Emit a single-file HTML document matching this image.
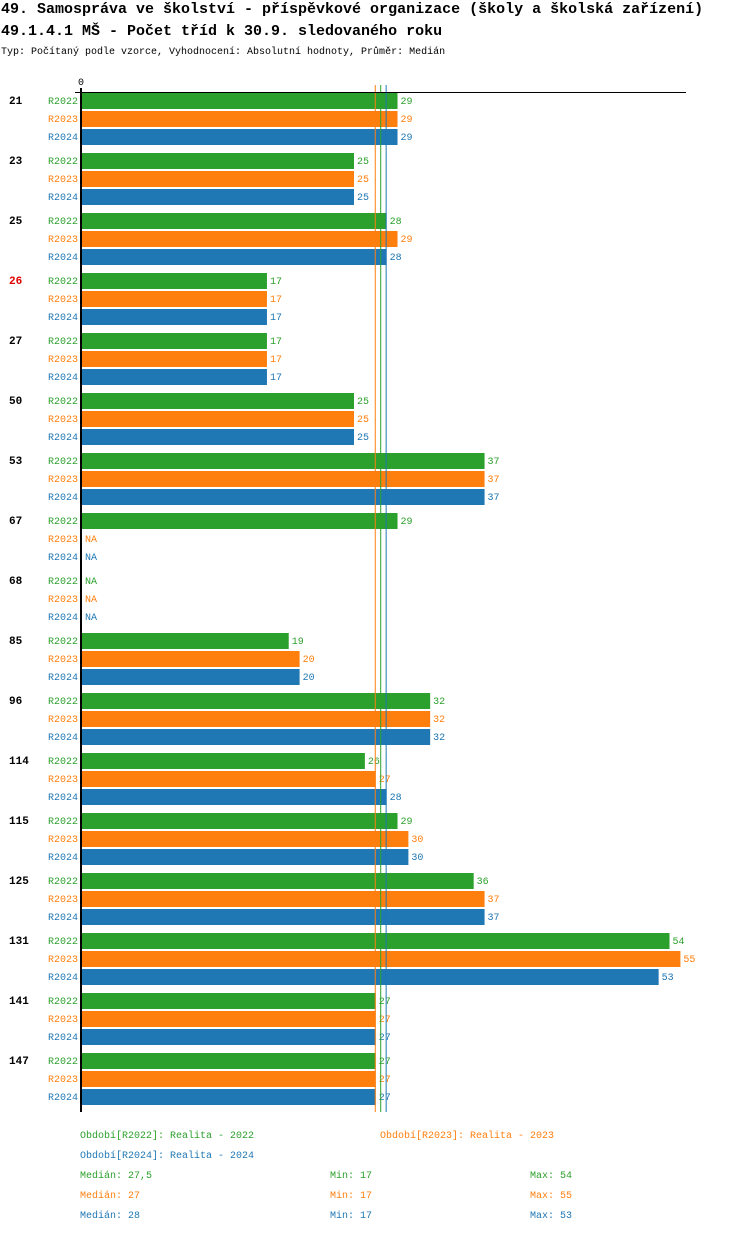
<!DOCTYPE html>
<html><head><meta charset="utf-8">
<style>
body{margin:0;background:#fff;width:750px;height:1232px;overflow:hidden;font-family:"Liberation Mono",monospace;}
svg text{font-family:"Liberation Mono",monospace;}
</style></head>
<body>
<svg id="chart" width="750" height="1232">
<text x="1" y="13" font-size="15" font-weight="bold">49. Samospráva ve školství - příspěvkové organizace (školy a školská zařízení)</text>
<text x="1" y="35" font-size="15" font-weight="bold">49.1.4.1 MŠ - Počet tříd k 30.9. sledovaného roku</text>
<text x="1" y="54" font-size="10">Typ: Počítaný podle vzorce, Vyhodnocení: Absolutní hodnoty, Průměr: Medián</text>
<text x="78" y="85" font-size="10">0</text>
<g id="bars"></g>
</svg>
<script>
const categories=["21","23","25","26","27","50","53","67","68","85","96","114","115","125","131","141","147"];
const highlighted=["26"];
const seriesNames=["R2022","R2023","R2024"];
const r2022=[29,25,28,17,17,25,37,29,null,19,32,26,29,36,54,27,27];
const r2023=[29,25,29,17,17,25,37,null,null,20,32,27,30,37,55,27,27];
const r2024=[29,25,28,17,17,25,37,null,null,20,32,28,30,37,53,27,27];
const medians=[27.5,27,28];
const mins=[17,17,17];
const maxs=[54,55,53];
const colors=["#2ca02c","#ff7f0e","#1f77b4"];
const series=[r2022,r2023,r2024];
const NS="http://www.w3.org/2000/svg";
const svgEl=document.getElementById("chart");
const X0=82, SC=10.88, TOPY=92, GROUP=60, PITCH=18, BH=16;
const xs=v=>X0+v*SC;
function mk(tag,attrs,parent){const e=document.createElementNS(NS,tag);for(const k in attrs)e.setAttribute(k,attrs[k]);(parent||svgEl).appendChild(e);return e;}
const g=document.getElementById("bars");
const bottomY=TOPY+categories.length*GROUP;
categories.forEach((c,i)=>{
  const gy=TOPY+i*GROUP;
  const t=mk("text",{x:9,y:gy+12,"font-size":11,"font-weight":"bold",fill:highlighted.includes(c)?"#e00000":"#000"},g);
  t.textContent=c;
  
  
  series.forEach((s,j)=>{
    const y=gy+1+j*PITCH;
    const lab=mk("text",{x:78,y:y+11,"font-size":10,fill:colors[j],"text-anchor":"end"},g);
    lab.textContent=seriesNames[j];
    
    
    const v=s[i];
    if(v!==null){
      const r=mk("rect",{x:X0,y:y,width:xs(v)-X0,height:BH,fill:colors[j]},g);
      
      
    }
    const vt=mk("text",{x:(v===null?X0:xs(v))+3,y:y+11,"font-size":10,fill:colors[j]},g);
    vt.textContent=v===null?"NA":v;
    
    
  });
});
const mOrder=[1,0,2];
mOrder.forEach(j=>{
  const l=mk("line",{x1:xs(medians[j])-0.5,x2:xs(medians[j])-0.5,y1:85,y2:bottomY,stroke:colors[j],"stroke-width":1});
  
  
});
const topLine=mk("line",{x1:75,x2:686,y1:92.5,y2:92.5,stroke:"#000","stroke-width":1});


const ax=mk("line",{x1:81,x2:81,y1:88,y2:bottomY,stroke:"#000","stroke-width":2});


function txt(x,y,s,col,name){const t=mk("text",{x:x,y:y,"font-size":10,fill:col});t.textContent=s;}
txt(80,1138,"Období[R2022]: Realita - 2022",colors[0],"legend-entry");
txt(380,1138,"Období[R2023]: Realita - 2023",colors[1],"legend-entry");
txt(80,1158,"Období[R2024]: Realita - 2024",colors[2],"legend-entry");
[0,1,2].forEach(j=>{
  const y=1178+j*20;
  txt(80,y,"Medián: "+String(medians[j]).replace(".",","),colors[j],"median-stat");
  txt(330,y,"Min: "+mins[j],colors[j],"min-stat");
  txt(530,y,"Max: "+maxs[j],colors[j],"max-stat");
});
</script>
</body></html>
